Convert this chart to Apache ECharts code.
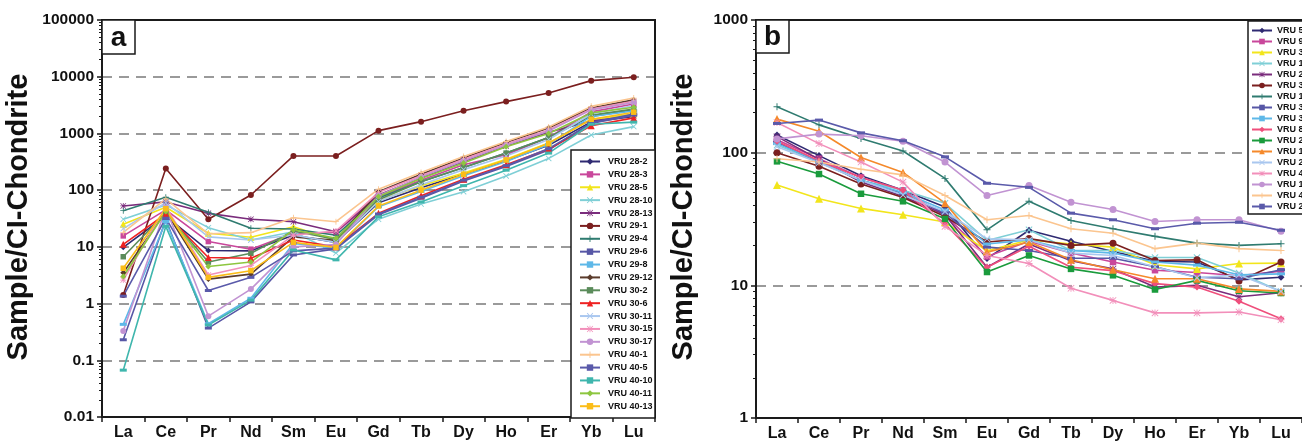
<!DOCTYPE html>
<html><head><meta charset="utf-8">
<script src="https://cdn.jsdelivr.net/npm/echarts@6/dist/echarts.min.js"></script>
<style>html,body{margin:0;padding:0;background:#fff}#c{width:1302px;height:442px}</style>
</head><body><div id="c"></div>
<script>
const categories = ['La','Ce','Pr','Nd','Sm','Eu','Gd','Tb','Dy','Ho','Er','Yb','Lu'];
const yTicksA = ['0.01','0.1','1','10','100','1000','10000','100000'];
const yTicksB = ['1','10','100','1000'];

const namesA = ['VRU 28-2','VRU 28-3','VRU 28-5','VRU 28-10','VRU 28-13','VRU 29-1','VRU 29-4','VRU 29-6','VRU 29-8','VRU 29-12','VRU 30-2','VRU 30-6','VRU 30-11','VRU 30-15','VRU 30-17','VRU 40-1','VRU 40-5','VRU 40-10','VRU 40-11','VRU 40-13'];
const v28_2  = [9.8, 35, 8.6, 8.5, 16, 12, 60, 110, 190, 330, 620, 1600, 2000];
const v28_3  = [15.6, 45, 12.4, 9.1, 17.4, 18, 76, 150, 280, 420, 850, 2400, 3300];
const v28_5  = [25, 50, 17.4, 14.8, 22.7, 13, 65, 120, 200, 350, 680, 1750, 2200];
const v28_10 = [30.7, 55, 21.8, 13.2, 18.5, 7.8, 30.7, 57, 94, 178, 363, 940, 1320];
const v28_13 = [52.6, 62, 39, 30.7, 27.8, 18.5, 82, 165, 320, 600, 1050, 1650, 2050];
const v29_1  = [1.42, 240, 30.7, 82, 401, 400, 1120, 1613, 2520, 3640, 5180, 8530, 9800];
const v29_4  = [43.5, 75, 40.7, 21.3, 20.7, 16, 73, 140, 250, 450, 850, 2000, 2600];
const v29_6  = [0.23, 30, 0.37, 1.07, 7.2, 9.2, 37, 72, 145, 260, 510, 1550, 2200];
const v29_8  = [0.43, 28, 0.44, 1.24, 11.5, 9.5, 51, 95, 180, 320, 640, 2000, 2500];
const v29_12 = [3.5, 42, 2.7, 3.3, 15, 13, 94, 190, 370, 690, 1250, 2800, 3900];
const v30_2  = [6.7, 40, 5.4, 7.7, 19, 13.5, 68, 140, 250, 450, 850, 2100, 2700];
const v30_6  = [11.1, 38, 6.5, 6.3, 13.2, 10, 39, 80, 155, 280, 530, 1370, 1880];
const v30_11 = [21, 60, 15, 13.2, 16.2, 12, 63, 125, 230, 400, 780, 2200, 3100];
const v30_15 = [2.6, 50, 3.2, 4.7, 16, 19, 91, 180, 350, 650, 1150, 2700, 3700];
const v30_17 = [0.33, 48, 0.6, 1.8, 10, 11, 80, 170, 330, 620, 1100, 2600, 3500];
const v40_1  = [18, 70, 17, 17.8, 32.7, 27.8, 104, 205, 390, 720, 1300, 3000, 4200];
const v40_5  = [1.35, 32, 1.7, 2.9, 8.5, 9.5, 38, 75, 150, 270, 540, 1500, 2100];
const v40_10 = [0.067, 23, 0.42, 1.15, 8.8, 5.9, 34, 62, 120, 225, 450, 1450, 1580];
const v40_11 = [3.0, 42, 4.5, 5.4, 20, 14.2, 77, 160, 300, 580, 1000, 2300, 2900];
const v40_13 = [4.2, 47, 2.9, 3.8, 12, 9.8, 52.6, 100, 190, 340, 670, 1780, 2370];
const valuesA = [v28_2,v28_3,v28_5,v28_10,v28_13,v29_1,v29_4,v29_6,v29_8,v29_12,v30_2,v30_6,v30_11,v30_15,v30_17,v40_1,v40_5,v40_10,v40_11,v40_13];

const namesB = ['VRU 5','VRU 9','VRU 33','VRU 10','VRU 28','VRU 30','VRU 1a','VRU 31','VRU 32','VRU 8','VRU 26','VRU 13','VRU 29','VRU 40','VRU 18','VRU 4','VRU 23'];
const b5  = [136, 95, 67, 52, 39, 15.9, 26, 21.5, 18, 15.2, 15, 11, 11.5];
const b9  = [125, 90, 65, 52, 34, 16.5, 21.5, 17.5, 15, 13, 12.5, 11.8, 12.8];
const b33 = [57, 45, 38, 34, 30, 18.2, 22, 20.5, 19.4, 14.3, 13.3, 14.6, 14.7];
const b10 = [114, 85, 62, 52, 41.5, 21.8, 26.2, 18.3, 18.3, 16.2, 16.2, 12.4, 9.0];
const b28 = [132, 89, 60, 47, 34, 13.7, 20.5, 15.3, 13.3, 9.7, 10, 8.2, 8.8];
const b30 = [100, 79, 58, 46, 33, 21.2, 22.5, 20, 20.8, 15.4, 15.6, 10.8, 15];
const b1a = [222, 162, 128, 103, 64, 26.2, 43, 30.8, 26.7, 23.4, 20.8, 20, 20.6];
const b31 = [120, 85, 62, 49, 35, 19.4, 18.3, 16, 16, 13.8, 11.5, 11.2, 13.1];
const b32 = [117, 86, 62, 50, 37, 20.5, 22, 18.3, 17.5, 15, 14.2, 12, 12.2];
const b8  = [122, 87, 65, 52, 29, 13.7, 19.7, 13.7, 12.9, 10.3, 9.7, 7.6, 5.6];
const b26 = [86, 69, 49, 43, 31.7, 12.6, 16.8, 13.3, 11.9, 9.3, 10.9, 9.1, 8.75];
const b13 = [179, 145, 92, 71, 41.6, 17.8, 21.2, 15.6, 13.1, 11.2, 11.2, 9.4, 9];
const b29 = [111, 84, 62, 48, 36, 22.4, 22, 17.5, 16.8, 13.8, 11.4, 12, 9];
const b40 = [169, 117, 85, 60, 27.8, 16.8, 14.6, 9.5, 7.7, 6.2, 6.2, 6.3, 5.5];
const b18 = [127, 138, 134, 122, 85, 47.5, 56.5, 42.3, 37.3, 30.3, 31.2, 31.2, 25.6];
const b4  = [90, 85, 75, 68, 47.5, 31.2, 33.6, 26.7, 24.7, 18.9, 20.8, 18.9, 18.3];
const b23 = [166, 176, 141, 123, 93, 58.8, 54.8, 35, 31.2, 26.7, 29.4, 29.9, 26];
const valuesB = [b5,b9,b33,b10,b28,b30,b1a,b31,b32,b8,b26,b13,b29,b40,b18,b4,b23];

const FONT = '"Liberation Sans", Arial, sans-serif';
const SYM = {
  diamond: 'diamond', square: 'rect', triangle: 'triangle', circle: 'circle',
  x: 'path://M0,1 L1,0 L5,4 L9,0 L10,1 L6,5 L10,9 L9,10 L5,6 L1,10 L0,9 L4,5 Z',
  plus: 'path://M4.3,0 H5.7 V4.3 H10 V5.7 H5.7 V10 H4.3 V5.7 H0 V4.3 H4.3 Z',
  star: 'path://M4.4,0 H5.6 V10 H4.4 Z M0,4.4 H10 V5.6 H0 Z M0.8,0 L10,9.2 L9.2,10 L0,0.8 Z M9.2,0 L10,0.8 L0.8,10 L0,9.2 Z',
  dash: 'rect'
};
const styleA = [
  ['#2f2a72','diamond'],['#c9479b','square'],['#f2e51b','triangle'],['#7fcfd6','x'],['#7a2c7c','star'],
  ['#7b1f1f','circle'],['#2f7b70','plus'],['#5757a6','dash'],['#5eb8e8','dash'],['#5b3c2c','diamond'],
  ['#5b8c5b','square'],['#ee2222','triangle'],['#a9c7ef','x'],['#f28fba','star'],['#c193d2','circle'],
  ['#fbc58f','plus'],['#5a5aaa','dash'],['#3fb6ad','dash'],['#8dc63f','diamond'],['#fbbd18','square']
];
const styleB = [
  ['#2f2a72','diamond'],['#c9479b','square'],['#f2e51b','triangle'],['#7fcfd6','x'],['#7a2c7c','star'],
  ['#7b1f1f','circle'],['#2f7b70','plus'],['#5757a6','dash'],['#5eb8e8','dash'],['#ef4f7c','diamond'],
  ['#1a9b3c','square'],['#f5892a','triangle'],['#a9c7ef','x'],['#f28fba','star'],['#c193d2','circle'],
  ['#fbc58f','plus'],['#5a5aaa','dash']
];

function makeSeries(names, values, styles, xi, yi, size) {
  return names.map((n, i) => {
    const [color, shape] = styles[i];
    let s = size;
    if (shape === 'dash') s = [size + 1, 3];
    if (shape === 'triangle') s = size + 1;
    if (shape === 'square') s = size - 0.5;
    return {
      name: n, type: 'line', xAxisIndex: xi, yAxisIndex: yi,
      data: values[i], symbol: SYM[shape], symbolSize: s,
      showAllSymbol: true,
      lineStyle: {color, width: 1.6}, itemStyle: {color},
      emphasis: {disabled: true}
    };
  });
}

// minor tick positions (log10 of 2..9 × 10^e) for an auxiliary linear axis in exponent units
function minorTicks(lo, hi) {
  const out = [];
  for (let e = lo; e < hi; e++) for (let k = 2; k <= 9; k++) out.push(e + Math.log10(k));
  return out;
}

const axisLineBlack = {show: true, onZero: false, lineStyle: {color: '#1a1a1a', width: 2}};
const labelBold = (sz) => ({color: '#111', fontWeight: 'bold', fontSize: sz, fontFamily: FONT});

function yMain(gi, min, max, ticks, minExp) {
  return {
    gridIndex: gi, type: 'log', logBase: 10, min, max, position: 'left',
    axisLine: axisLineBlack,
    axisTick: {show: true, length: 5, lineStyle: {color: '#1a1a1a', width: 1.5}},
    axisLabel: Object.assign(labelBold(15.5), {margin: 8,
      formatter: v => ticks[Math.round(Math.log10(v)) - minExp]}),
    splitLine: {show: true, lineStyle: {color: '#9a9a9a', width: 2, type: [10, 7]}}
  };
}
function yMinor(gi, lo, hi) {
  return {
    gridIndex: gi, type: 'value', min: lo, max: hi, position: 'left', offset: 0,
    axisLine: {show: false, onZero: false},
    axisTick: {show: true, length: 3, customValues: minorTicks(lo, hi), lineStyle: {color: '#1a1a1a', width: 1}},
    axisLabel: {show: false}, splitLine: {show: false}
  };
}
function xCat(gi) {
  return {
    gridIndex: gi, type: 'category', data: categories, boundaryGap: true, position: 'bottom',
    axisLine: axisLineBlack,
    axisTick: {show: true, length: 5, lineStyle: {color: '#1a1a1a', width: 1.5}},
    axisLabel: Object.assign(labelBold(16), {margin: 8, interval: 0}),
    splitLine: {show: false}
  };
}

const legendCommon = {
  orient: 'vertical', padding: 0, selectedMode: false, z: 10,
  textStyle: {fontSize: 9, fontWeight: 'bold', fontFamily: FONT, color: '#111', overflow: 'none'}
};

const chart = echarts.init(document.getElementById('c'), null, {renderer: 'canvas'});
chart.setOption({
  animation: false,
  backgroundColor: '#fff',
  grid: [
    {left: 102, top: 20, width: 553, height: 397, show: false, containLabel: false},
    {left: 756, top: 20, width: 553, height: 398, show: false, containLabel: false}
  ],
  xAxis: [xCat(0), xCat(1)],
  yAxis: [
    yMain(0, 0.01, 100000, yTicksA, -2), yMinor(0, -2, 5),
    yMain(1, 1, 1000, yTicksB, 0), yMinor(1, 0, 3)
  ],
  legend: [
    Object.assign({}, legendCommon, {left: 579, top: 157, itemWidth: 20, itemHeight: 8, itemGap: 3.88,
      data: namesA, textStyle: Object.assign({}, legendCommon.textStyle, {lineHeight: 8, padding: [0, 0, 0, 3]})}),
    Object.assign({}, legendCommon, {left: 1251, top: 26, itemWidth: 20, itemHeight: 7, itemGap: 2.0,
      data: namesB, textStyle: Object.assign({}, legendCommon.textStyle, {lineHeight: 7})})
  ],
  graphic: [
    {type: 'rect', shape: {x: 102, y: 20, width: 553, height: 397}, style: {fill: null, stroke: '#1a1a1a', lineWidth: 2}, z: 4},
    {type: 'rect', shape: {x: 756, y: 20, width: 553, height: 398}, style: {fill: null, stroke: '#1a1a1a', lineWidth: 2}, z: 4},
    {type: 'rect', shape: {x: 571, y: 150, width: 84, height: 268}, style: {fill: '#fff', stroke: '#1a1a1a', lineWidth: 1.5}, z: 5},
    {type: 'rect', shape: {x: 1248, y: 21, width: 70, height: 193}, style: {fill: '#fff', stroke: '#1a1a1a', lineWidth: 1.5}, z: 5},
    {type: 'rect', shape: {x: 102, y: 20, width: 33, height: 34}, style: {fill: '#fff', stroke: '#1a1a1a', lineWidth: 1.5}, z: 5},
    {type: 'text', x: 118.5, y: 38, style: {text: 'a', fontSize: 28, fontWeight: 'bold', fontFamily: FONT, fill: '#111', align: 'center', verticalAlign: 'middle'}, z: 6},
    {type: 'rect', shape: {x: 756, y: 20, width: 33, height: 33}, style: {fill: '#fff', stroke: '#1a1a1a', lineWidth: 1.5}, z: 5},
    {type: 'text', x: 772.5, y: 37, style: {text: 'b', fontSize: 28, fontWeight: 'bold', fontFamily: FONT, fill: '#111', align: 'center', verticalAlign: 'middle'}, z: 6},
    {type: 'text', x: 19, y: 217, rotation: Math.PI / 2, style: {text: 'Sample/CI-Chondrite', fontSize: 29, fontWeight: 'bold', fontFamily: FONT, fill: '#111', align: 'center', verticalAlign: 'middle'}},
    {type: 'text', x: 684, y: 217, rotation: Math.PI / 2, style: {text: 'Sample/CI-Chondrite', fontSize: 29, fontWeight: 'bold', fontFamily: FONT, fill: '#111', align: 'center', verticalAlign: 'middle'}}
  ],
  series: makeSeries(namesA, valuesA, styleA, 0, 0, 6).concat(makeSeries(namesB, valuesB, styleB, 1, 2, 7))
});
</script>
</body></html>
